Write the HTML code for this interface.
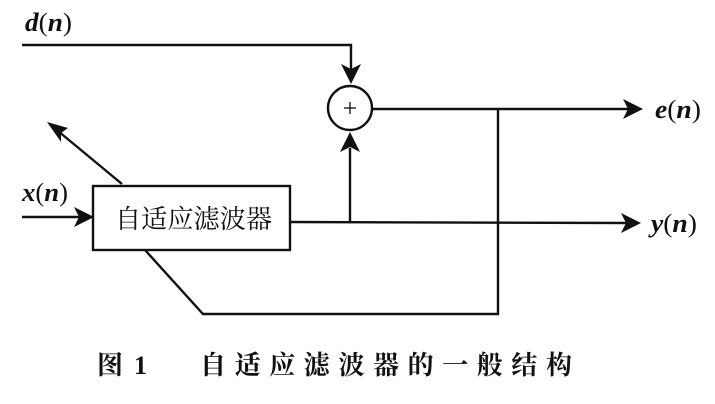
<!DOCTYPE html>
<html>
<head>
<meta charset="utf-8">
<style>
html,body{margin:0;padding:0;background:#fff;}
svg{display:block;}
.lbl{font-family:"Liberation Serif",serif;font-size:26px;fill:#111;}
.it{font-style:italic;font-weight:bold;}
.cap{font-family:"Liberation Serif","Noto Serif CJK SC",serif;font-size:26px;font-weight:bold;fill:#111;}
</style>
</head>
<body>
<svg width="715" height="404" viewBox="0 0 715 404" xmlns="http://www.w3.org/2000/svg">
<g stroke="#111" stroke-width="2.4" fill="none">
  <polyline points="22,45 351,45 351,70"/>
  <circle cx="350" cy="108" r="22"/>
  <line x1="372" y1="109" x2="630" y2="109"/>
  <polyline points="498,109 498,314 203,314 145,250"/>
  <rect x="93" y="186" width="197" height="64"/>
  <line x1="22" y1="217" x2="80" y2="217"/>
  <line x1="290" y1="222" x2="628" y2="223"/>
  <line x1="350" y1="222" x2="350" y2="148"/>
  <line x1="122" y1="184" x2="58" y2="131"/>
</g>
<g fill="#111" stroke="none">
  <path d="M351,84 L341,64 L351,69 L361,64 Z"/>
  <path d="M350,132 L340,152 L350,147 L360,152 Z"/>
  <path d="M643,109 L623,99 L628,109 L623,119 Z"/>
  <path d="M641,223 L621,213 L626,223 L621,233 Z"/>
  <path d="M94,217 L74,207 L79,217 L74,227 Z"/>
  <path d="M47,122 L68,128 L61,133 L61,142 Z"/>
</g>
<g stroke="#111" stroke-width="1.3">
  <line x1="344" y1="108" x2="356" y2="108"/>
  <line x1="350" y1="102" x2="350" y2="114"/>
</g>
<text class="lbl" x="25" y="31" textLength="47" lengthAdjust="spacingAndGlyphs"><tspan class="it">d</tspan>(<tspan class="it">n</tspan>)</text>
<text class="lbl" x="22" y="201" textLength="46" lengthAdjust="spacingAndGlyphs"><tspan class="it">x</tspan>(<tspan class="it">n</tspan>)</text>
<text class="lbl" x="655" y="118" textLength="46" lengthAdjust="spacingAndGlyphs"><tspan class="it">e</tspan>(<tspan class="it">n</tspan>)</text>
<text class="lbl" x="651" y="232" textLength="46" lengthAdjust="spacingAndGlyphs"><tspan class="it">y</tspan>(<tspan class="it">n</tspan>)</text>
<text x="115" y="228" textLength="157" lengthAdjust="spacingAndGlyphs" style="font-family:'Liberation Serif','Noto Serif CJK SC',serif;font-size:26px;fill:#111;">自适应滤波器</text>
<text class="cap" x="97" y="374">图</text>
<text class="cap" x="134" y="374">1</text>
<text class="cap" x="200" y="374" textLength="372" lengthAdjust="spacing">自适应滤波器的一般结构</text>
</svg>
</body>
</html>
